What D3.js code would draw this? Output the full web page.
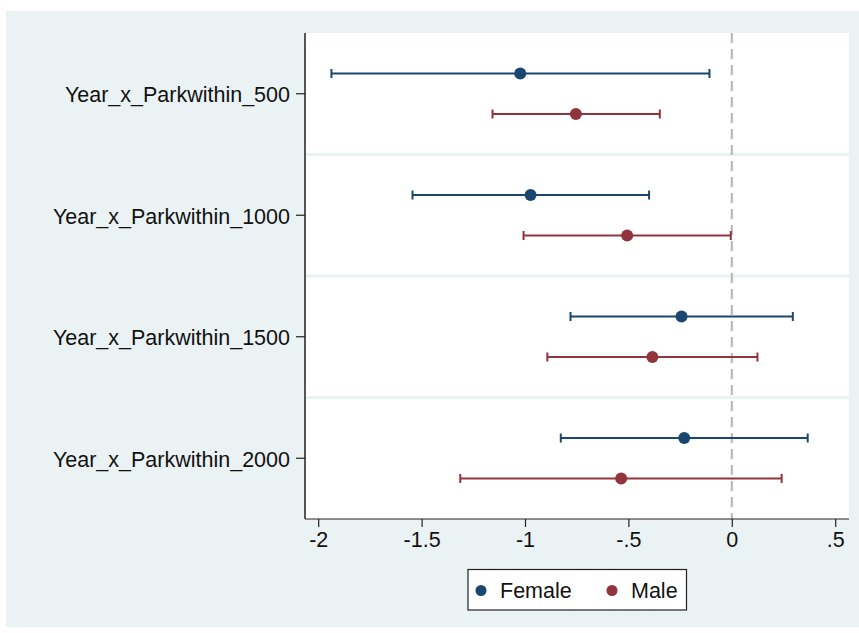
<!DOCTYPE html>
<html>
<head>
<meta charset="utf-8">
<script src="https://cdn.jsdelivr.net/npm/d3@7"></script>
<style>
  body { margin: 0; background: #fff; }
  svg text { font-family: "Liberation Sans", Arial, sans-serif; fill: #111; }
</style>
</head>
<body>
<svg id="chart" width="859" height="633"></svg>
<script>
// coefficient plot, values
var terms = ["Year_x_Parkwithin_500", "Year_x_Parkwithin_1000", "Year_x_Parkwithin_1500", "Year_x_Parkwithin_2000"];
var groups = ["Female", "Male"];
var colors = ["#1a476f", "#90353b"];

var femaleEst = [-1.023, -0.973, -0.243, -0.230];
var femaleLo  = [-1.936, -1.544, -0.780, -0.827];
var femaleHi  = [-0.108, -0.400, 0.295, 0.367];

var maleEst = [-0.754, -0.506, -0.384, -0.535];
var maleLo  = [-1.157, -1.007, -0.892, -1.313];
var maleHi  = [-0.348, -0.005, 0.124, 0.241];

var xTicks = [-2, -1.5, -1, -0.5, 0, 0.5];
var xTickLabels = ["-2", "-1.5", "-1", "-.5", "0", ".5"];

function draw() {
  var svg = d3.select("#chart");
  var fs = "21.5px";

  svg.append("rect")
    .attr("x", 6).attr("y", 11)
    .attr("width", 853).attr("height", 616)
    .attr("fill", "#eaf2f3");

  var pl = 305, pr = 849, pt = 33, pb = 519;

  svg.append("rect")
    .attr("x", pl).attr("y", pt)
    .attr("width", pr - pl).attr("height", pb - pt)
    .attr("fill", "#fff");

  var x = d3.scaleLinear().domain([-2, 0.5]).range([318.2, 835.2]);
  var band = d3.scaleBand().domain(terms).range([pt, pb]);

  var rows = [];
  terms.forEach(function(t, i) {
    rows.push({term: t, g: 0, est: femaleEst[i], lo: femaleLo[i], hi: femaleHi[i]});
    rows.push({term: t, g: 1, est: maleEst[i], lo: maleLo[i], hi: maleHi[i]});
  });
  function rowY(d) { return band(d.term) + band.bandwidth() * (d.g + 1) / 3; }

  // separators between terms
  svg.selectAll("line.sep")
    .data(terms.slice(1))
    .enter().append("line")
    .attr("class", "sep")
    .attr("x1", pl).attr("x2", pr)
    .attr("y1", function(d) { return band(d); })
    .attr("y2", function(d) { return band(d); })
    .attr("stroke", "#eaf2f3")
    .attr("stroke-width", 3);

  // zero line
  svg.append("line")
    .attr("x1", x(0)).attr("x2", x(0))
    .attr("y1", pt).attr("y2", pb)
    .attr("stroke", "#b4b4b4")
    .attr("stroke-width", 2)
    .attr("stroke-dasharray", "10,6");

  var marks = svg.append("g");
  marks.selectAll("line.ci")
    .data(rows).enter().append("line")
    .attr("class", "ci")
    .attr("x1", function(d) { return x(d.lo); })
    .attr("x2", function(d) { return x(d.hi); })
    .attr("y1", rowY).attr("y2", rowY)
    .attr("stroke", function(d) { return colors[d.g]; })
    .attr("stroke-width", 2);

  ["lo", "hi"].forEach(function(k) {
    marks.selectAll("line.cap" + k)
      .data(rows).enter().append("line")
      .attr("class", "cap" + k)
      .attr("x1", function(d) { return x(d[k]); })
      .attr("x2", function(d) { return x(d[k]); })
      .attr("y1", function(d) { return rowY(d) - 4.5; })
      .attr("y2", function(d) { return rowY(d) + 4.5; })
      .attr("stroke", function(d) { return colors[d.g]; })
      .attr("stroke-width", 2);
  });

  marks.selectAll("circle")
    .data(rows).enter().append("circle")
    .attr("cx", function(d) { return x(d.est); })
    .attr("cy", rowY)
    .attr("r", 6)
    .attr("fill", function(d) { return colors[d.g]; });

  // axes
  var xAxis = d3.axisBottom(x)
    .tickValues(xTicks)
    .tickFormat(function(d, i) { return xTickLabels[i]; })
    .tickSize(8).tickSizeOuter(0);
  var gx = svg.append("g").attr("transform", "translate(0," + pb + ")").call(xAxis);
  gx.select(".domain").attr("d", "M" + pl + ",0H" + pr).attr("stroke", "#222").attr("stroke-width", 1.2);
  gx.selectAll(".tick line").attr("stroke", "#222").attr("stroke-width", 1.2);
  gx.selectAll(".tick text").attr("font-size", fs).attr("y", 13).attr("dy", "0.71em")
    .style("font-family", "'Liberation Sans', Arial, sans-serif").attr("fill", "#111");

  var yAxis = d3.axisLeft(band).tickSize(9).tickSizeOuter(0).tickPadding(6);
  var gy = svg.append("g").attr("transform", "translate(" + pl + ",0)").call(yAxis);
  gy.select(".domain").attr("d", "M0," + pt + "V" + pb).attr("stroke", "#555").attr("stroke-width", 2);
  gy.selectAll(".tick line").attr("stroke", "#222").attr("stroke-width", 1.2);
  gy.selectAll(".tick text").attr("font-size", fs).attr("dy", "0.4em")
    .style("font-family", "'Liberation Sans', Arial, sans-serif").attr("fill", "#111");

  // legend
  var legend = svg.append("g");
  legend.append("rect")
    .attr("x", 468).attr("y", 569.5)
    .attr("width", 218.5).attr("height", 40.5)
    .attr("fill", "#fff").attr("stroke", "#222").attr("stroke-width", 1.2);
  var lx = [481, 612];
  groups.forEach(function(g, i) {
    legend.append("circle").attr("cx", lx[i]).attr("cy", 590.5).attr("r", 5.5).attr("fill", colors[i]);
    legend.append("text").attr("x", lx[i] + 19).attr("y", 590.5).attr("dy", "0.36em")
      .attr("font-size", fs).text(g);
  });
}

draw();
</script>
</body>
</html>
